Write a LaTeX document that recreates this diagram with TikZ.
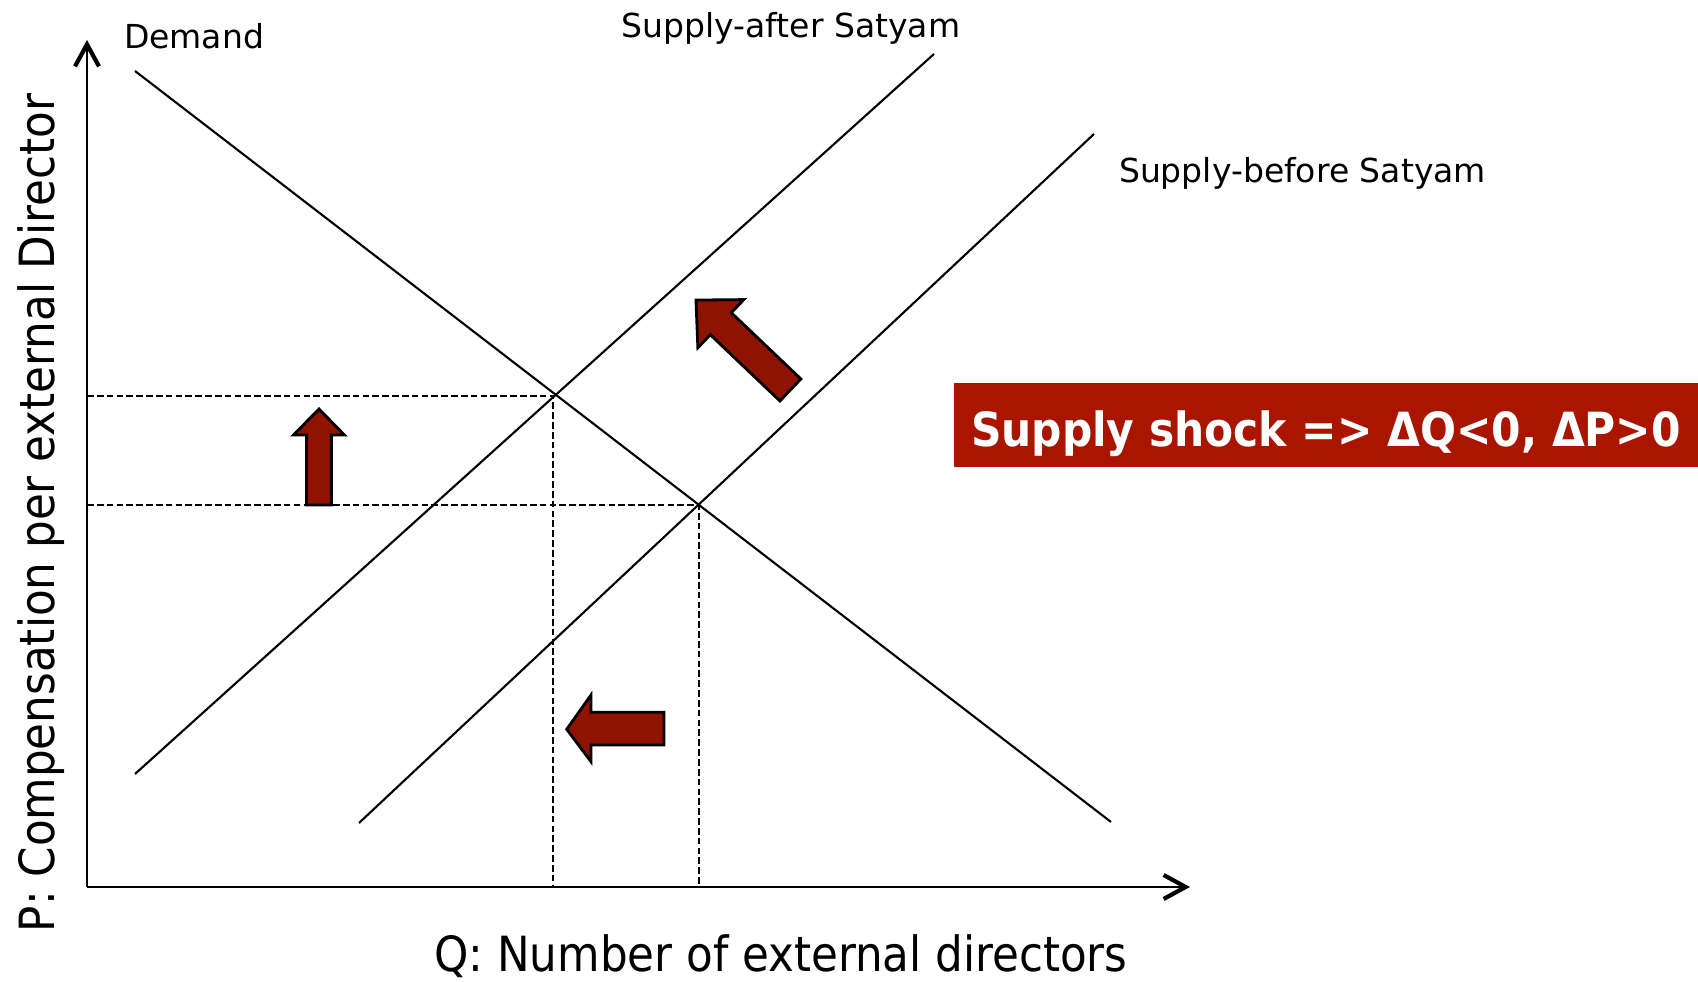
\documentclass[tikz,border=0pt]{standalone}
\usepackage{fontspec}
\setmainfont{DejaVu Sans}
\newfontfamily\condensed{DejaVu Sans Condensed}
\usetikzlibrary{arrows.meta}

\definecolor{shockred}{RGB}{170,21,0}
\definecolor{arrowred}{RGB}{144,18,0}

\begin{document}
\begin{tikzpicture}
    [line width=0.6pt,
     axisline/.style={-{Straight Barb[length=2.2mm,width=2.4mm,line width=1.2pt]}},
     guide/.style={dash pattern=on 1.9pt off 0.9pt},
     shiftarrow/.style={draw=black,line width=0.8pt,fill=arrowred,line join=miter},
     lbl/.style={font=\fontsize{9.4}{11}\selectfont,inner sep=0pt},
     axlbl/.style={font=\condensed\fontsize{13.8}{16}\selectfont,inner sep=0pt}]
    \useasboundingbox (0,0) rectangle (16.98,9.82);

    % axes
    \coordinate (o) at (0.87,0.95);
    \coordinate (ytop) at (0.87,9.42);
    \coordinate (xend) at (11.90,0.95);
    \draw[axisline] (o) -- (ytop);
    \draw[axisline] (o) -- (xend);

    % demand and the two supply lines
    \coordinate (d1) at (1.35,9.11);
    \coordinate (d2) at (11.11,1.60);
    \coordinate (sa1) at (1.35,2.08);
    \coordinate (sa2) at (9.34,9.28);
    \coordinate (sb1) at (3.59,1.59);
    \coordinate (sb2) at (10.94,8.48);
    \draw (d1) -- (d2);
    \draw (sa1) -- (sa2);
    \draw (sb1) -- (sb2);

    % equilibria
    \coordinate (eqa) at (5.53,5.86);
    \coordinate (eqb) at (6.99,4.77);
    \draw[guide] (o |- eqa) -- (eqa) -- (eqa |- o);
    \draw[guide] (o |- eqb) -- (eqb) -- (eqb |- o);

    \node[lbl,anchor=base west] (ndem) at (1.23,9.33) {Demand};
    \node[lbl,anchor=base] (nafter) at (7.91,9.44) {Supply-after Satyam};
    \node[lbl,anchor=base west] (nbefore) at (11.18,7.99) {Supply-before Satyam};
    \node[axlbl,anchor=base,rotate=90] (nprice) at (0.54,4.69) {P: Compensation per external Director};
    \node[axlbl,anchor=base] (nqty) at (7.81,0.10) {Q: Number of external directors};

    % shift arrows
    \draw[shiftarrow] (3.065,4.77) -- (3.065,5.47) -- (2.935,5.47) -- (3.19,5.73)
        -- (3.444,5.47) -- (3.314,5.47) -- (3.314,4.77) -- cycle;
    \draw[shiftarrow] (6.64,2.697) -- (5.91,2.697) -- (5.91,2.87) -- (5.667,2.527)
        -- (5.91,2.203) -- (5.91,2.37) -- (6.64,2.37) -- cycle;
    \begin{scope}[shift={(7.904,5.92)},rotate=136.4]
      \draw[shiftarrow] (0,0.152) -- (0.961,0.152) -- (0.961,0.333) -- (1.304,0)
          -- (0.961,-0.333) -- (0.961,-0.152) -- (0,-0.152) -- cycle;
    \end{scope}

    \node[fill=shockred,text=white,inner sep=0pt,minimum width=7.44cm,
          text height=0.64cm,text depth=0.20cm,anchor=base,
          font=\condensed\fontsize{13.4}{16}\selectfont\bfseries] (nshock) at (13.26,5.35)
          {Supply shock => ΔQ<0, ΔP>0};

  \end{tikzpicture}
\end{document}
